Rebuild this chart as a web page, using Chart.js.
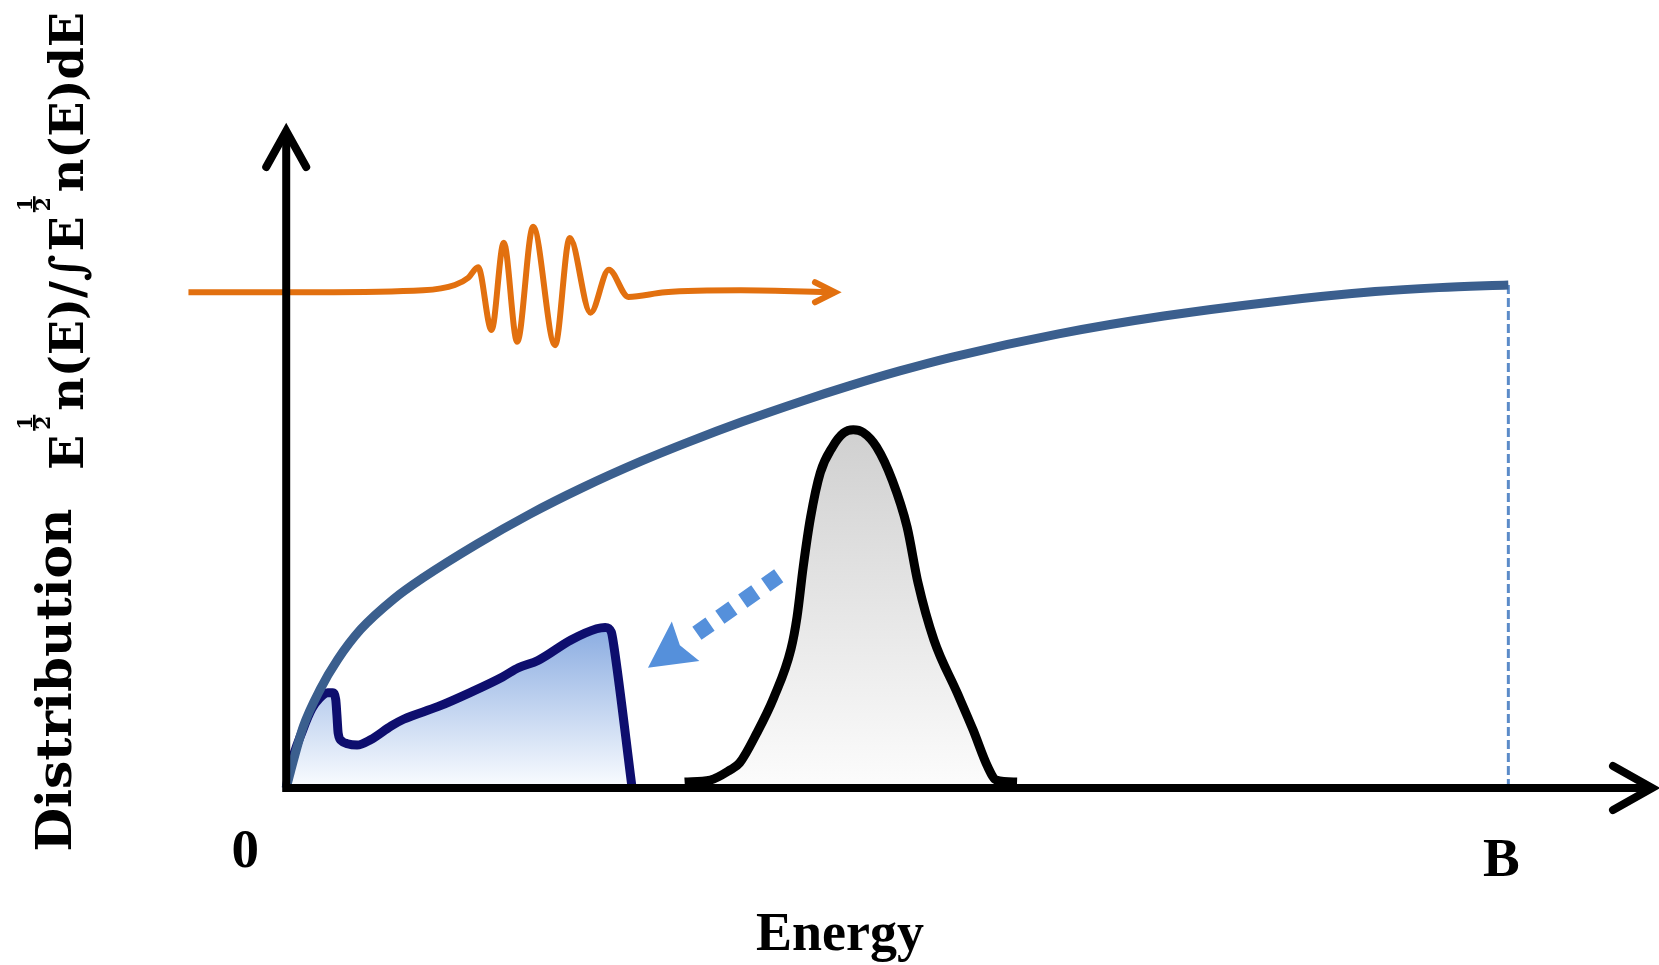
<!DOCTYPE html>
<html>
<head>
<meta charset="utf-8">
<script src="https://cdn.jsdelivr.net/npm/chart.js@4.4.1/dist/chart.umd.min.js"></script>
<style>
  html, body { margin: 0; padding: 0; background: #ffffff; }
  #wrap { width: 1659px; height: 965px; position: relative; }
</style>
</head>
<body>
<div id="wrap"><canvas id="chart" width="1659" height="965"></canvas></div>
<script>
// ---- data (energy in units where B = 100, distribution height in 0..100) ----
const tickValues = [0, 100];
const tickLabels = ['0', 'B'];
const xTitle = 'Energy';
const yTitleWord = 'Distribution';

// thermal E^1/2 n(E) curve up to the cutoff B
const thermalE = [0, 0.35, 1.4, 2.8, 4.2, 6.1, 8.8, 11.2, 15.6, 19.9, 24.2, 29.0, 33.0, 37.3, 42.3, 46.0, 50.2, 54.5, 63.2, 71.8, 80.5, 89.1, 94.3, 100];
const thermalY = [0, 2.5, 9.3, 15.0, 19.4, 24.0, 28.6, 31.8, 36.9, 41.4, 45.4, 49.4, 52.4, 55.4, 58.6, 60.8, 63.1, 65.2, 68.7, 71.4, 73.5, 75.1, 75.7, 76.1];

// low-energy (relaxed) distribution
const lowE = [0, 0.3, 1.36, 2.1, 2.74, 3.4, 3.8, 4.05, 4.15, 4.25, 4.55, 5.0, 5.8, 6.9, 8.6, 9.6, 12.4, 15.0, 17.7, 19.0, 20.6, 23.3, 25.4, 26.1, 26.6, 26.8, 28.3];
const lowY = [0, 3.0, 8.8, 12.0, 13.6, 14.4, 14.4, 13.4, 11.0, 8.3, 7.1, 6.7, 6.5, 7.3, 9.4, 10.4, 12.3, 14.4, 16.8, 18.2, 19.3, 22.4, 24.1, 24.3, 23.6, 21.6, 0];

// excited peak
const peakE = [32.6, 34.7, 36.3, 37.1, 38.5, 39.9, 41.3, 41.8, 42.3, 42.9, 43.7, 44.7, 45.6, 46.4, 47.2, 48.3, 49.6, 50.8, 51.7, 53.0, 54.9, 56.2, 57.4, 58.1, 59.8];
const peakY = [0.9, 1.2, 2.7, 3.8, 8.3, 13.7, 21.0, 25.9, 33.4, 40.9, 47.7, 51.6, 53.7, 54.2, 53.8, 51.6, 46.5, 39.5, 31.0, 22.4, 14.4, 8.8, 3.2, 1.2, 0.9];

// light pulse
const pulseE = [-8.0, 2.5, 11.2, 13.8, 14.9, 15.7, 16.8, 17.8, 18.9, 20.2, 22.0, 23.2, 24.9, 26.4, 28.0, 31.0, 37.2, 44.9];
const pulseY = [75.0, 75.0, 75.3, 76.1, 77.2, 78.8, 69.3, 82.5, 67.5, 84.9, 67.0, 83.2, 71.9, 78.4, 74.3, 75.0, 75.3, 75.0];

// relaxation arrow (tail -> tip)
const relaxArrowE = [40.3, 29.6];
const relaxArrowY = [32.1, 18.2];

// cutoff marker at B
const cutoffE = [100, 100];
const cutoffY = [76.1, 0];

const zip = (xs, ys) => xs.map((x, i) => ({ x: x, y: ys[i] }));

function vGradient(ctx, topVal, topColor, bottomColor) {
  const chart = ctx.chart;
  if (!chart.chartArea) return topColor;
  const ys = chart.scales.y;
  const g = chart.ctx.createLinearGradient(0, ys.getPixelForValue(topVal), 0, ys.getPixelForValue(0));
  g.addColorStop(0, topColor);
  g.addColorStop(1, bottomColor);
  return g;
}

// axes with arrowheads, labels and annotation arrows
const decorations = {
  id: 'decorations',
  afterDatasetsDraw(chart) {
    const c = chart.ctx;
    const xs = chart.scales.x, ys = chart.scales.y;
    const x0 = xs.getPixelForValue(0);
    const y0 = ys.getPixelForValue(0);
    const yTop = chart.chartArea.top;
    const xEnd = chart.chartArea.right;

    // relaxation arrow
    {
      const tx = xs.getPixelForValue(relaxArrowE[0]), ty = ys.getPixelForValue(relaxArrowY[0]);
      const hx = xs.getPixelForValue(relaxArrowE[1]), hy = ys.getPixelForValue(relaxArrowY[1]);
      const dx = hx - tx, dy = hy - ty, L = Math.hypot(dx, dy);
      const ux = dx / L, uy = dy / L, nx = -uy, ny = ux;
      const headLen = 46, headHalf = 24;
      const bx = hx - ux * headLen, by = hy - uy * headLen;
      c.save();
      c.strokeStyle = '#5590db';
      c.fillStyle = '#5590db';
      c.lineWidth = 16;
      c.lineCap = 'butt';
      c.setLineDash([16, 12]);
      c.beginPath();
      c.moveTo(tx, ty);
      c.lineTo(bx - ux * 2, by - uy * 2);
      c.stroke();
      c.setLineDash([]);
      c.beginPath();
      c.moveTo(hx, hy);
      c.lineTo(bx + nx * headHalf, by + ny * headHalf);
      c.lineTo(bx + ux * 7, by + uy * 7);
      c.lineTo(bx - nx * headHalf, by - ny * headHalf);
      c.closePath();
      c.fill();
      c.restore();
    }

    // open arrowhead on the light pulse
    {
      const n = pulseE.length;
      const px = xs.getPixelForValue(pulseE[n - 1]), py = ys.getPixelForValue(pulseY[n - 1]);
      c.save();
      c.strokeStyle = '#e2700f';
      c.lineWidth = 6;
      c.lineCap = 'round';
      c.lineJoin = 'miter';
      c.beginPath();
      c.moveTo(px - 20, py - 10);
      c.lineTo(px, py);
      c.lineTo(px - 20, py + 10);
      c.stroke();
      c.restore();
    }

    // axes
    c.save();
    c.strokeStyle = '#000';
    c.lineWidth = 8;
    c.lineCap = 'butt';
    c.beginPath();
    c.moveTo(x0, y0 + 4);
    c.lineTo(x0, yTop + 6);
    c.moveTo(x0 - 4, y0);
    c.lineTo(xEnd - 4, y0);
    c.stroke();
    c.lineCap = 'round';
    c.lineJoin = 'miter';
    c.beginPath();
    c.moveTo(x0 - 20, yTop + 40);
    c.lineTo(x0, yTop + 4);
    c.lineTo(x0 + 20, yTop + 40);
    c.moveTo(xEnd - 42, y0 - 22);
    c.lineTo(xEnd - 3, y0);
    c.lineTo(xEnd - 42, y0 + 22);
    c.stroke();
    c.restore();

    // tick labels and x title
    c.save();
    c.fillStyle = '#000';
    c.textAlign = 'center';
    c.textBaseline = 'alphabetic';
    c.font = 'bold 55px "Liberation Serif"';
    const tickShift = [-41, -7];
    const tickBase = [867, 876];
    tickValues.forEach((v, i) => {
      c.fillText(tickLabels[i], xs.getPixelForValue(v) + tickShift[i], tickBase[i]);
    });
    c.font = 'bold 54px "Liberation Serif"';
    c.fillText(xTitle, 840, 950);
    c.restore();

    // rotated y title
    drawYTitle(c);
  }
};

function drawYTitle(c) {
  c.save();
  c.fillStyle = '#000';
  // word part
  c.save();
  c.translate(71, 680);
  c.rotate(-Math.PI / 2);
  c.font = 'bold 48px "DejaVu Serif"';
  c.textAlign = 'center';
  c.textBaseline = 'alphabetic';
  const w = c.measureText(yTitleWord).width;
  c.scale(343 / w, 1);
  c.fillText(yTitleWord, 0, 0);
  c.restore();

  // formula part: E^(1/2) n(E) / ∫ E^(1/2) n(E) dE
  const mainFont = 'bold 46px "DejaVu Serif"';
  const fracFont = 'bold 20px "DejaVu Serif"';
  const pieces = [
    { t: 'E' }, { f: ['1', '2'] }, { t: 'n(E)/\u222B' },
    { t: 'E' }, { f: ['1', '2'] }, { t: 'n(E)dE' }
  ];
  const gap = 3;
  let total = 0;
  pieces.forEach(p => {
    if (p.t) { c.font = mainFont; p.w = c.measureText(p.t).width; }
    else { c.font = fracFont; p.w = Math.max(c.measureText(p.f[0]).width, c.measureText(p.f[1]).width) + 4; }
    total += p.w + gap;
  });
  total -= gap;
  c.translate(83, 470);
  c.rotate(-Math.PI / 2);
  c.scale(458 / total, 1);
  c.textBaseline = 'alphabetic';
  let x = 0;
  pieces.forEach(p => {
    if (p.t) {
      c.font = mainFont;
      c.textAlign = 'left';
      c.fillText(p.t, x, 0);
    } else {
      c.font = fracFont;
      c.textAlign = 'center';
      const cx = x + p.w / 2;
      c.fillText(p.f[0], cx, -51);
      c.fillRect(x + 1, -50, p.w - 2, 2.5);
      c.fillText(p.f[1], cx, -33);
    }
    x += p.w + gap;
  });
  c.restore();
}

const chart = new Chart(document.getElementById('chart'), {
  type: 'line',
  data: {
    datasets: [
      {
        data: zip(thermalE, thermalY),
        borderColor: '#3b5f8e',
        borderWidth: 9,
        cubicInterpolationMode: 'monotone',
        pointRadius: 0,
        fill: false,
        clip: false
      },
      {
        data: zip(pulseE, pulseY),
        borderColor: '#e2700f',
        borderWidth: 6,
        cubicInterpolationMode: 'monotone',
        pointRadius: 0,
        fill: false,
        clip: false
      },
      {
        data: zip(cutoffE, cutoffY),
        borderColor: '#5b8bc8',
        borderWidth: 3,
        borderDash: [9, 4],
        pointRadius: 0,
        fill: false,
        clip: false
      },
      {
        data: zip(lowE, lowY),
        borderColor: '#0e0e6e',
        borderWidth: 9,
        cubicInterpolationMode: 'monotone',
        pointRadius: 0,
        fill: 'origin',
        backgroundColor: ctx => vGradient(ctx, 25, 'rgb(135,170,224)', 'rgb(250,252,255)'),
        clip: false
      },
      {
        data: zip(peakE, peakY),
        borderColor: '#000000',
        borderWidth: 9,
        cubicInterpolationMode: 'monotone',
        pointRadius: 0,
        fill: 'origin',
        backgroundColor: ctx => vGradient(ctx, 54, 'rgb(208,208,208)', 'rgb(252,252,252)'),
        clip: false
      }
    ]
  },
  options: {
    responsive: false,
    devicePixelRatio: 1,
    animation: false,
    layout: { padding: { left: 164, right: 4, top: 127, bottom: 177 } },
    scales: {
      x: { type: 'linear', min: -10, max: 112, display: false },
      y: { type: 'linear', min: 0, max: 100, display: false }
    },
    plugins: {
      legend: { display: false },
      tooltip: { enabled: false }
    }
  },
  plugins: [decorations]
});
</script>
</body>
</html>
